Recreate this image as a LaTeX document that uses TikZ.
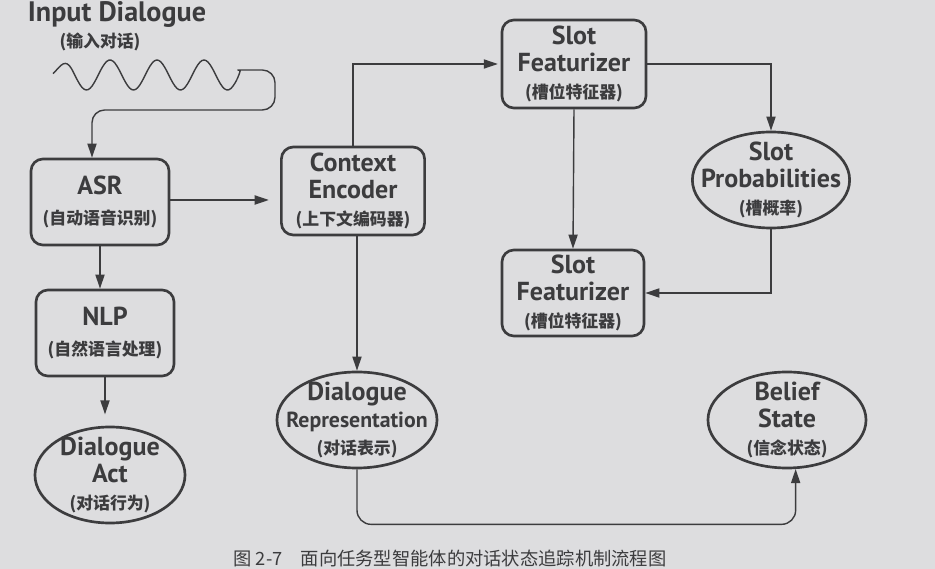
\documentclass[tikz,border=0pt]{standalone}
\usepackage{fontspec}
\setmainfont{PT Sans}
\newfontfamily\cjk{Noto Sans CJK SC}
\usetikzlibrary{shapes.geometric,arrows.meta}
\definecolor{inkc}{RGB}{60,60,62}
\definecolor{paper}{RGB}{221,221,223}
\newcommand\entitle{\fontsize{18.5}{19}\selectfont\bfseries}
\newcommand\cnsub[1]{{\cjk\fontsize{12}{14}\selectfont #1}}

\begin{document}
\begin{tikzpicture}[x=0.025cm, y=-0.025cm,
        box/.style={draw=inkc, line width=1.9pt, rounded corners=8.5pt, minimum width=3.45cm, minimum height=2.15cm, inner sep=0pt, align=center, text=inkc, font=\entitle},
        oval/.style={draw=inkc, line width=1.9pt, ellipse, minimum width=3.95cm, minimum height=2.4cm, inner sep=0pt},
        txt/.style={align=center, inner sep=0pt, text=inkc, font=\entitle},
        link/.style={draw=inkc, line width=1pt, -{Triangle[length=10pt,width=6.5pt]}}]
        \fill [paper] (0, 0) rectangle (935, 569);

        \node [txt, font=\fontsize{20}{22}\selectfont\bfseries] (title) at (117, 14) {Input Dialogue};
        \node [txt] (titlezh) at (100, 42) {\cnsub{(输入对话)}};

        \node [box] (asr) at (100, 202) {ASR\\[2pt]\cnsub{(自动语音识别)}};
        \node [box] (nlp) at (105, 333) {NLP\\[2pt]\cnsub{(自然语言处理)}};
        \node [box, minimum width=3.58cm, minimum height=2.2cm] (ctx) at (353, 191) {Context\\Encoder\\\cnsub{(上下文编码器)}};
        \node [box, minimum width=3.6cm, minimum height=2.2cm] (slot1) at (574, 64) {Slot\\Featurizer\\\cnsub{(槽位特征器)}};
        \node [box, minimum width=3.55cm, minimum height=2.15cm] (slot2) at (573, 293) {Slot\\Featurizer\\\cnsub{(槽位特征器)}};

        \node [oval, minimum width=3.75cm, label={[txt]center:{Dialogue\\Act\\\cnsub{(对话行为)}}}] (act) at (110, 475) {};
        \node [oval, minimum width=4cm, label={[txt]center:{Dialogue\\{\fontsize{15.5}{17}\selectfont Representation}\\\cnsub{(对话表示)}}}] (rep) at (357, 420) {};
        \node [oval, label={[txt]center:{Belief\\State\\\cnsub{(信念状态)}}}] (belief) at (787, 420) {};
        \node [oval, minimum width=3.93cm, label={[txt]center:{Slot\\Probabilities\\\cnsub{(槽概率)}}}] (prob) at (771, 180) {};

        \draw [draw=inkc, line width=1pt, smooth, samples=90, domain=53:237] plot (\x, {75-min(15,(\x-41)/2)*sin((\x-98.25)*7.6596)});
        \coordinate (wend) at (237, 79.4);
        \coordinate (wbend) at (92, 110);
        \draw [link, rounded corners=9pt] (wend) .. controls (241, 70) .. (250, 70) -- (275, 70) -- (275, 110) -- (wbend) -- (wbend |- asr.north);

        \draw [link, shorten >=8pt] (asr.east |- 0, 200) -- (ctx.west |- 0, 200);
        \draw [link] (asr.south) -- (asr.south |- nlp.north);
        \draw [link, shorten >=8pt] (nlp.south) -- (nlp.south |- act.north);
        \draw [link, shorten >=2pt] (ctx.north) |- (slot1.west);
        \draw [link] (slot1.east) -| (prob.north);
        \draw [link] (slot1.south) -- (slot2.north);
        \draw [link] (prob.south) |- (slot2.east);
        \draw [link] (rep.north |- ctx.south) -- (rep.north);
        \draw [link, rounded corners=10pt] (rep.south) -- ++(0, 55) -| (belief.-80);

        \node [font=\cjk\fontsize{13}{15}\selectfont, text=inkc, inner sep=0pt] (caption) at (450, 558) {图 2-7\quad 面向任务型智能体的对话状态追踪机制流程图};
    \end{tikzpicture}
\end{document}
